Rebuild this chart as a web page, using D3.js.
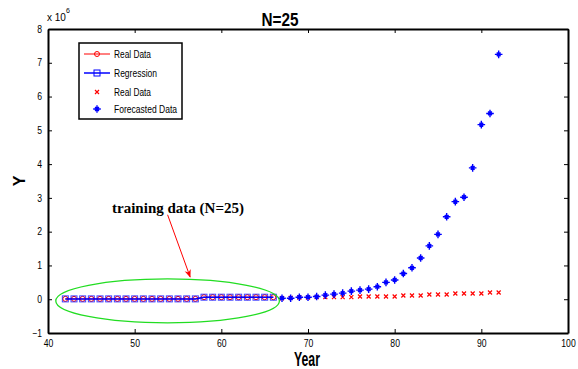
<!DOCTYPE html>
<html>
<head>
<meta charset="utf-8">
<script src="https://cdn.jsdelivr.net/npm/d3@7"></script>
<style>
  body { margin: 0; background: #fff; }
  svg { display: block; }
  text { font-family: "Liberation Sans Narrow", "Liberation Sans", Arial, sans-serif; }
</style>
</head>
<body>
<div class="svgcontainer"></div>
<script>
// values in units of 1e6
const trainYears = d3.range(42, 67)
const trainReal = [0.01, 0.01, 0.01, 0.01, 0.01, 0.01, 0.01, 0.01, 0.01, 0.01, 0.01, 0.01, 0.01, 0.01, 0.01, 0.01,
  0.06, 0.06, 0.06, 0.06, 0.06, 0.06, 0.06, 0.06, 0.06]
const trainRegression = [0.01, 0.01, 0.01, 0.01, 0.01, 0.01, 0.01, 0.01, 0.01, 0.01, 0.01, 0.01, 0.01, 0.01, 0.01, 0.01,
  0.06, 0.06, 0.06, 0.06, 0.06, 0.06, 0.06, 0.06, 0.06]

const testYears = d3.range(67, 93)
const testReal = [0.03, 0.04, 0.05, 0.05, 0.06, 0.06, 0.06, 0.06, 0.06, 0.08, 0.08, 0.08, 0.08, 0.08,
  0.11, 0.11, 0.11, 0.14, 0.14, 0.14, 0.17, 0.17, 0.17, 0.17, 0.2, 0.2]
const forecast = [0.03, 0.03, 0.06, 0.06, 0.08, 0.12, 0.15, 0.18, 0.24, 0.27, 0.3, 0.37, 0.5, 0.57,
  0.76, 0.93, 1.22, 1.58, 1.92, 2.44, 2.89, 3.02, 3.89, 5.17, 5.5, 7.25]

const xTicks = [40, 50, 60, 70, 80, 90, 100]
const yTicks = [-1, 0, 1, 2, 3, 4, 5, 6, 7, 8]
const legendLabels = ["Real Data", "Regression", "Real Data", "Forecasted Data"]
const legendWidths = [37, 43, 37, 63]

const width = 578, height = 369
const margin = {left: 48, right: 10, top: 29, bottom: 36}

const svg = d3.select(".svgcontainer")
  .append("svg")
  .attr("width", width)
  .attr("height", height)

const x = d3.scaleLinear().domain([40, 100]).range([margin.left, width - margin.right])
const y = d3.scaleLinear().domain([-1, 8]).range([height - margin.bottom, margin.top])

// axes, MATLAB style box with inward ticks
const tickLen = 4
svg.append("g")
  .attr("transform", `translate(0,${y(-1)})`)
  .call(d3.axisBottom(x).tickValues(xTicks).tickSizeInner(-tickLen).tickSizeOuter(0).tickPadding(7))
svg.append("g")
  .attr("transform", `translate(0,${y(8)})`)
  .call(d3.axisTop(x).tickValues(xTicks).tickSizeInner(-tickLen).tickSizeOuter(0).tickFormat(""))
svg.append("g")
  .attr("transform", `translate(${x(40)},0)`)
  .call(d3.axisLeft(y).tickValues(yTicks).tickSizeInner(-tickLen).tickSizeOuter(0).tickPadding(6))
svg.append("g")
  .attr("transform", `translate(${x(100)},0)`)
  .call(d3.axisRight(y).tickValues(yTicks).tickSizeInner(-tickLen).tickSizeOuter(0).tickFormat(""))

svg.selectAll(".domain").attr("stroke", "#000").attr("stroke-width", 2)
svg.selectAll(".tick line").attr("stroke", "#000")
svg.selectAll(".tick text")
  .attr("font-family", "'Liberation Sans Narrow', 'Liberation Sans', Arial, sans-serif")
  .attr("font-size", 10)
  .attr("fill", "#000")
  .attr("textLength", d => String(d).length * 4.8)
  .attr("lengthAdjust", "spacingAndGlyphs")

// marker helpers
function star(g, cx, cy, r, color) {
  g.append("path")
    .attr("d", `M${cx - r},${cy}H${cx + r}M${cx},${cy - r}V${cy + r}` +
      `M${cx - r * 0.5},${cy - r * 0.5}L${cx + r * 0.5},${cy + r * 0.5}` +
      `M${cx - r * 0.5},${cy + r * 0.5}L${cx + r * 0.5},${cy - r * 0.5}`)
    .attr("stroke", color).attr("stroke-width", 1.4).attr("fill", "none")
}
function cross(g, cx, cy, r, color) {
  g.append("path")
    .attr("d", `M${cx - r},${cy - r}L${cx + r},${cy + r}M${cx - r},${cy + r}L${cx + r},${cy - r}`)
    .attr("stroke", color).attr("stroke-width", 1.2).attr("fill", "none")
}

const line = d3.line().x(d => x(d[0])).y(d => y(d[1]))

// real data (training) red line with circles
const realPts = trainYears.map((yr, i) => [yr, trainReal[i]])
svg.append("path").attr("d", line(realPts)).attr("stroke", "red").attr("fill", "none").attr("stroke-width", 1)
svg.selectAll(".circ").data(realPts).enter().append("circle")
  .attr("cx", d => x(d[0])).attr("cy", d => y(d[1])).attr("r", 2.5)
  .attr("fill", "none").attr("stroke", "red")

// regression blue line with squares
const regPts = trainYears.map((yr, i) => [yr, trainRegression[i]])
svg.append("path").attr("d", line(regPts)).attr("stroke", "blue").attr("fill", "none").attr("stroke-width", 1.5)
svg.selectAll(".sq").data(regPts).enter().append("rect")
  .attr("x", d => x(d[0]) - 3).attr("y", d => y(d[1]) - 3).attr("width", 6).attr("height", 6)
  .attr("fill", "none").attr("stroke", "blue").attr("stroke-opacity", 0.75)

// real data (test) red x
const xg = svg.append("g")
testYears.forEach((yr, i) => cross(xg, x(yr), y(testReal[i]), 2, "red"))

// forecasted blue stars
const sg = svg.append("g")
testYears.forEach((yr, i) => star(sg, x(yr), y(forecast[i]), 3.8, "blue"))

// green ellipse around training data
svg.append("ellipse")
  .attr("cx", x(53.8)).attr("cy", y(-0.05))
  .attr("rx", x(53.8 + 12.9) - x(53.8)).attr("ry", y(-0.05) - y(0.6))
  .attr("fill", "none").attr("stroke", "#22dd22").attr("stroke-width", 1.3)

// annotation arrow + text
svg.append("defs").append("marker")
  .attr("id", "ah").attr("viewBox", "0 0 10 10").attr("refX", 9).attr("refY", 5)
  .attr("markerWidth", 8).attr("markerHeight", 10).attr("markerUnits", "userSpaceOnUse").attr("orient", "auto")
  .append("path").attr("d", "M0,1L10,5L0,9L3,5Z").attr("fill", "red")
svg.append("line")
  .attr("x1", x(53.8)).attr("y1", y(2.5)).attr("x2", x(56.4)).attr("y2", y(0.66))
  .attr("stroke", "red").attr("stroke-width", 1).attr("marker-end", "url(#ah)")
svg.append("text")
  .attr("x", x(55)).attr("y", y(2.56))
  .attr("text-anchor", "middle")
  .style("font-family", "'Liberation Serif', 'Times New Roman', serif")
  .attr("font-size", 15).attr("font-weight", "bold")
  .text("training data (N=25)")

// titles
svg.append("text").attr("x", 280).attr("y", 26).attr("text-anchor", "middle")
  .attr("font-size", 18).attr("font-weight", "bold")
  .attr("textLength", 37).attr("lengthAdjust", "spacingAndGlyphs").text("N=25")
svg.append("text").attr("x", 307).attr("y", 366).attr("text-anchor", "middle")
  .attr("font-size", 20).attr("font-weight", "bold")
  .attr("textLength", 26).attr("lengthAdjust", "spacingAndGlyphs").text("Year")
svg.append("text").attr("transform", `translate(25,${y(3.5)}) rotate(-90)`).attr("text-anchor", "middle")
  .attr("font-size", 16).attr("font-weight", "bold").text("Y")
const ex = svg.append("text").attr("x", 47).attr("y", 21).attr("font-size", 10)
ex.append("tspan").text("x 10")
ex.append("tspan").attr("dy", -8).attr("font-size", 7).text("6")

// legend
const lg = svg.append("g").attr("transform", "translate(79,43)")
lg.append("rect").attr("width", 103).attr("height", 76).attr("fill", "#fff").attr("stroke", "#000").attr("stroke-width", 1.5)
const rowY = [11, 30, 49, 66]
legendLabels.forEach((lab, i) => {
  const cy = rowY[i]
  if (i < 2) {
    lg.append("line").attr("x1", 5).attr("x2", 31).attr("y1", cy).attr("y2", cy)
      .attr("stroke", i === 0 ? "red" : "blue").attr("stroke-width", i === 0 ? 1 : 1.5)
  }
  if (i === 0) lg.append("circle").attr("cx", 18).attr("cy", cy).attr("r", 2.5).attr("fill", "none").attr("stroke", "red")
  if (i === 1) lg.append("rect").attr("x", 15).attr("y", cy - 3).attr("width", 6).attr("height", 6).attr("fill", "none").attr("stroke", "blue")
  if (i === 2) cross(lg, 18, cy, 2, "red")
  if (i === 3) star(lg, 18, cy, 3.8, "blue")
  lg.append("text").attr("x", 35).attr("y", cy + 4).attr("font-size", 11)
    .attr("textLength", legendWidths[i]).attr("lengthAdjust", "spacingAndGlyphs").text(lab)
})
</script>
</body>
</html>
